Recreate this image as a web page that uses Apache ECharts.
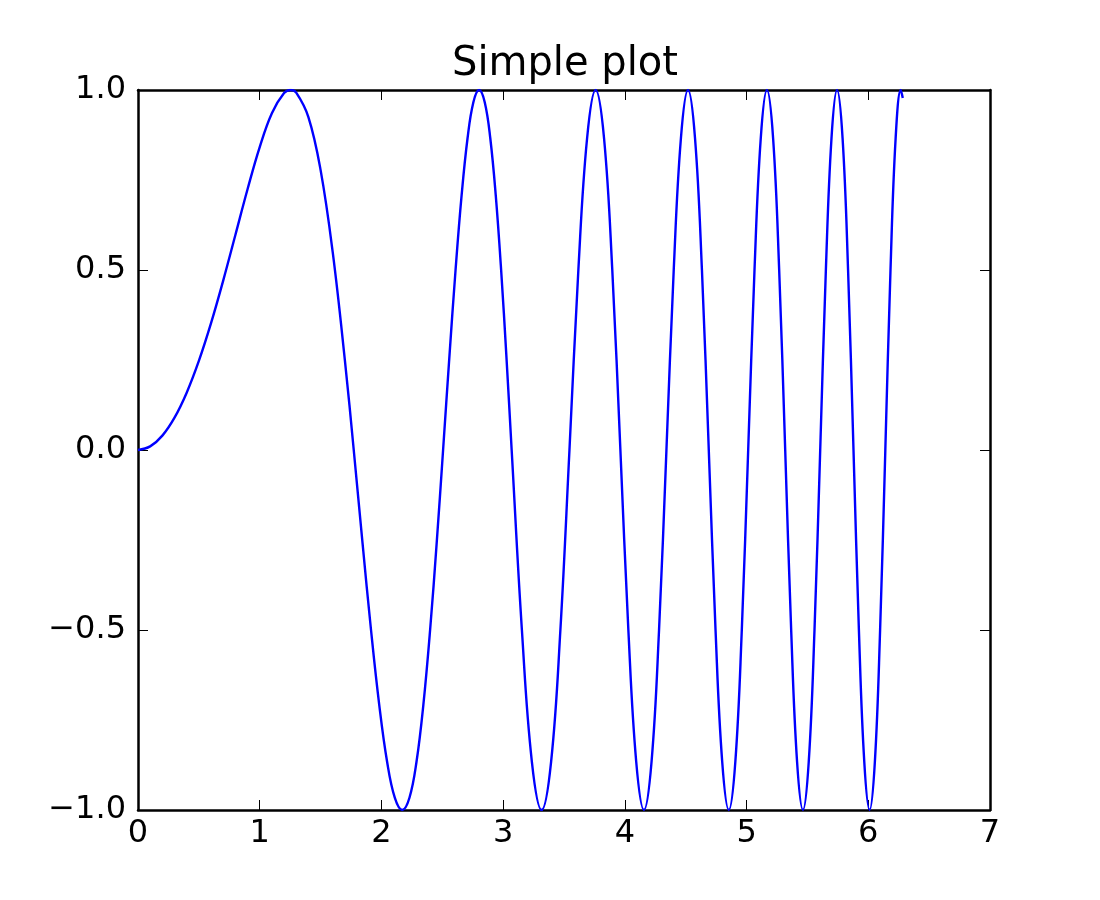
<!DOCTYPE html>
<html>
<head>
<meta charset="utf-8">
<script src="https://cdn.jsdelivr.net/npm/echarts@6/dist/echarts.min.js"></script>
<style>
html,body{margin:0;padding:0;background:#fff;}
#chart{width:1100px;height:900px;}
</style>
</head>
<body>
<div id="chart"></div>
<script>
const titleText = "Simple plot";
const xTicks = [0, 1, 2, 3, 4, 5, 6, 7];
const yTicks = [-1.0, -0.5, 0.0, 0.5, 1.0];
const xs = [0, 0.1, 0.2, 0.3, 0.4, 0.5, 0.6, 0.7, 0.8, 0.9, 1.0, 1.1, 1.2, 1.2533, 1.3, 1.4, 1.5, 1.6, 1.7, 1.7725,
  1.8448, 1.9145, 1.9817, 2.0466, 2.1097, 2.1708, 2.2303, 2.2882, 2.3447, 2.3999, 2.4539, 2.5066, 2.5583, 2.6090, 2.6587, 2.7075, 2.7554, 2.8025, 2.8488, 2.8944, 2.9393, 2.9835, 3.0270, 3.0700,
  3.1541, 3.2361, 3.3160, 3.3940, 3.4703, 3.5449, 3.6180, 3.6897, 3.7599, 3.8290, 3.8967, 3.9633,
  4.0288, 4.0933, 4.1568, 4.2193, 4.2809, 4.3416, 4.4015, 4.4606, 4.5189, 4.5765, 4.6333, 4.6895,
  4.7450, 4.7998, 4.8541, 4.9077, 4.9608, 5.0133, 5.0652, 5.1166, 5.1675, 5.2180, 5.2679, 5.3174,
  5.3664, 5.4149, 5.4631, 5.5108, 5.5581, 5.6050, 5.6515, 5.6977, 5.7434, 5.7888, 5.8339, 5.8785,
  5.9229, 5.9670, 6.0107, 6.0541, 6.0971, 6.1400, 6.1825, 6.2247, 6.2666, 6.2832];
const ys = [0, 0.0100, 0.0400, 0.0899, 0.1593, 0.2474, 0.3523, 0.4706, 0.5972, 0.7243, 0.8415, 0.9356, 0.9915, 1, 0.9929, 0.9249, 0.7781, 0.5487, 0.2486, 0,
  -0.2588, -0.5, -0.7071, -0.866, -0.9659, -1, -0.9659, -0.866, -0.7071, -0.5, -0.2588, 0, 0.2588, 0.5, 0.7071, 0.866, 0.9659, 1, 0.9659, 0.866, 0.7071, 0.5, 0.2588, 0,
  -0.5, -0.866, -1, -0.866, -0.5, 0, 0.5, 0.866, 1, 0.866, 0.5, 0,
  -0.5, -0.866, -1, -0.866, -0.5, 0, 0.5, 0.866, 1, 0.866, 0.5, 0,
  -0.5, -0.866, -1, -0.866, -0.5, 0, 0.5, 0.866, 1, 0.866, 0.5, 0,
  -0.5, -0.866, -1, -0.866, -0.5, 0, 0.5, 0.866, 1, 0.866, 0.5, 0,
  -0.5, -0.866, -1, -0.866, -0.5, 0, 0.5, 0.866, 1, 0.978];

const data = xs.map((x, i) => [x, ys[i]]);
const font = "DejaVu Sans";
const axisCommon = {
  axisLine: { show: true, onZero: false, lineStyle: { color: '#000', width: 2.5 } },
  axisTick: { show: true, inside: true, length: 10, lineStyle: { color: '#000', width: 1 } },
  splitLine: { show: false }
};
const chart = echarts.init(document.getElementById('chart'), null, { renderer: 'canvas' });
chart.setOption({
  animation: false,
  backgroundColor: '#fff',
  title: {
    text: titleText, left: 447, top: 40,
    textStyle: { fontFamily: font, fontSize: 40, fontWeight: 'normal', color: '#000' }
  },
  grid: { left: 138, right: 110, top: 90, bottom: 90, containLabel: false, outerBoundsMode: 'none' },
  xAxis: [
    Object.assign({ type: 'value', position: 'bottom', min: xTicks[0], max: xTicks[xTicks.length - 1], interval: 1,
      axisLabel: { show: true, margin: 8, color: '#000', fontFamily: font, fontSize: 32, formatter: v => String(v) } }, axisCommon),
    Object.assign({ type: 'value', position: 'top', min: xTicks[0], max: xTicks[xTicks.length - 1], interval: 1,
      axisLabel: { show: false } }, axisCommon)
  ],
  yAxis: [
    Object.assign({ type: 'value', position: 'left', min: yTicks[0], max: yTicks[yTicks.length - 1], interval: 0.5,
      axisLabel: { show: true, margin: 12, color: '#000', fontFamily: font, fontSize: 32,
        formatter: v => (v < 0 ? '\u2212' : '') + Math.abs(v).toFixed(1) } }, axisCommon),
    Object.assign({ type: 'value', position: 'right', min: yTicks[0], max: yTicks[yTicks.length - 1], interval: 0.5,
      axisLabel: { show: false } }, axisCommon)
  ],
  series: [{
    type: 'line', xAxisIndex: 0, yAxisIndex: 0, data: data,
    showSymbol: false, smooth: 0.4, clip: true,
    lineStyle: { color: '#0000ff', width: 2.4 }
  }]
});
</script>
</body>
</html>
